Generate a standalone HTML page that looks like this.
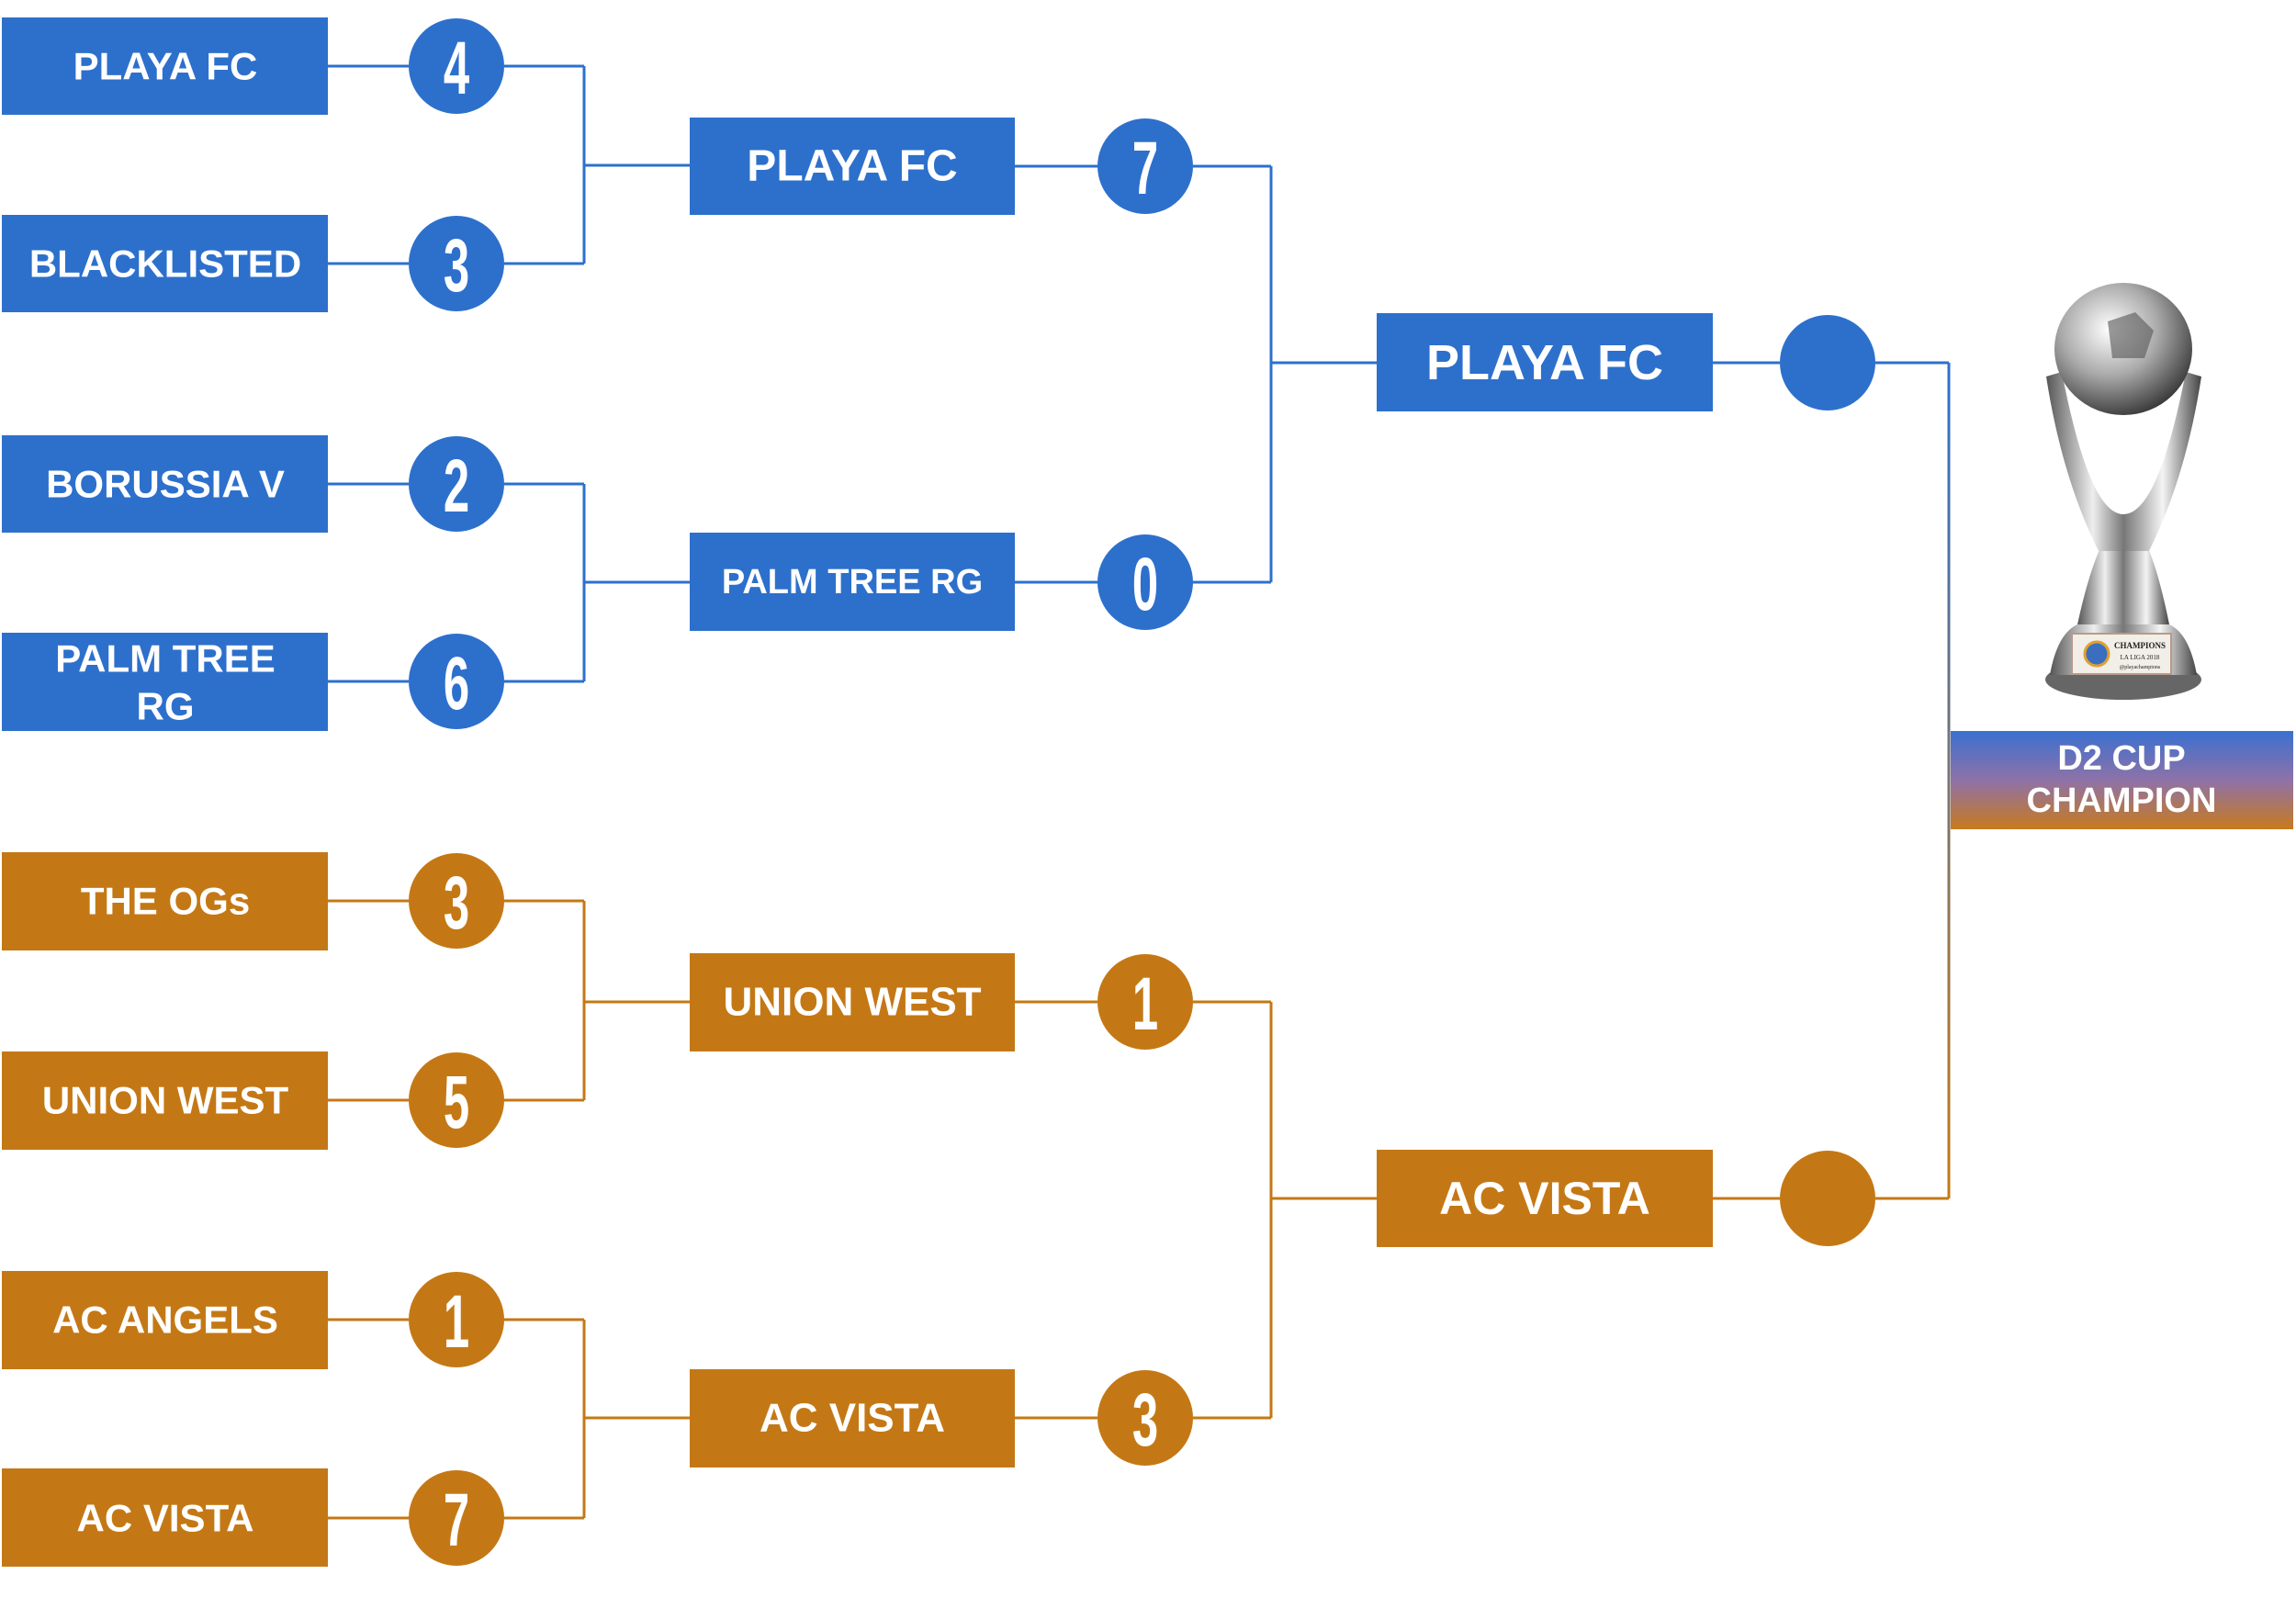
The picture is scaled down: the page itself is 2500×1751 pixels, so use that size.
<!DOCTYPE html>
<html><head><meta charset="utf-8"><style>
html,body{margin:0;padding:0;background:#fff;width:2500px;height:1751px;overflow:hidden}
svg{display:block}
.t{font-family:"Liberation Sans",sans-serif;font-weight:bold;fill:#fff;text-anchor:middle;dominant-baseline:central}
.n{font-family:"Liberation Sans Narrow","Liberation Sans",sans-serif;font-weight:bold;fill:#fff;text-anchor:middle;font-size:82px}
</style></head><body>
<svg width="2500" height="1751" viewBox="0 0 2500 1751" xmlns="http://www.w3.org/2000/svg">
<defs>
<linearGradient id="g" x1="0" y1="0" x2="0" y2="1"><stop offset="0" stop-color="#3a70d0"/><stop offset="0.5" stop-color="#8e72a8"/><stop offset="1" stop-color="#c87a1c"/></linearGradient>
<linearGradient id="vl" x1="0" y1="395" x2="0" y2="1305" gradientUnits="userSpaceOnUse"><stop offset="0" stop-color="#2d70cc"/><stop offset="1" stop-color="#c47815"/></linearGradient>
<linearGradient id="sil" x1="0" y1="0" x2="1" y2="0"><stop offset="0" stop-color="#555"/><stop offset="0.3" stop-color="#eee"/><stop offset="0.5" stop-color="#777"/><stop offset="0.75" stop-color="#f4f4f4"/><stop offset="1" stop-color="#444"/></linearGradient>
<radialGradient id="ball" cx="0.4" cy="0.35" r="0.7"><stop offset="0" stop-color="#fff"/><stop offset="0.5" stop-color="#aaa"/><stop offset="1" stop-color="#333"/></radialGradient>
</defs>
<g fill="none" stroke-width="3">
<!-- blue lines -->
<g stroke="#2d70cc">
<path d="M357 72H445M549 72H636M357 287H445M549 287H636M636 72V287M636 180H751"/>
<path d="M357 527H445M549 527H636M357 742H445M549 742H636M636 527V742M636 634H751"/>
<path d="M1105 181H1195M1299 181H1384M1105 634H1195M1299 634H1384M1384 181V634M1384 395H1499"/>
<path d="M1865 395H1938M2042 395H2122"/>
</g>
<g stroke="#c47815">
<path d="M357 981H445M549 981H636M357 1198H445M549 1198H636M636 981V1198M636 1091H751"/>
<path d="M357 1437H445M549 1437H636M357 1653H445M549 1653H636M636 1437V1653M636 1544H751"/>
<path d="M1105 1091H1195M1299 1091H1384M1105 1544H1195M1299 1544H1384M1384 1091V1544M1384 1305H1499"/>
<path d="M1865 1305H1938M2042 1305H2122"/>
</g>
<path d="M2122 395V1305" stroke="url(#vl)"/>
</g>
<!-- left boxes -->
<g fill="#2d70cc">
<rect x="2" y="19" width="355" height="106"/><rect x="2" y="234" width="355" height="106"/>
<rect x="2" y="474" width="355" height="106"/><rect x="2" y="689" width="355" height="107"/>
<rect x="751" y="128" width="354" height="106"/><rect x="751" y="580" width="354" height="107"/>
<rect x="1499" y="341" width="366" height="107"/>
<circle cx="497" cy="72" r="52"/><circle cx="497" cy="287" r="52"/><circle cx="497" cy="527" r="52"/><circle cx="497" cy="742" r="52"/>
<circle cx="1247" cy="181" r="52"/><circle cx="1247" cy="634" r="52"/><circle cx="1990" cy="395" r="52"/>
</g>
<g fill="#c47815">
<rect x="2" y="928" width="355" height="107"/><rect x="2" y="1145" width="355" height="107"/>
<rect x="2" y="1384" width="355" height="107"/><rect x="2" y="1599" width="355" height="107"/>
<rect x="751" y="1038" width="354" height="107"/><rect x="751" y="1491" width="354" height="107"/>
<rect x="1499" y="1252" width="366" height="106"/>
<circle cx="497" cy="981" r="52"/><circle cx="497" cy="1198" r="52"/><circle cx="497" cy="1437" r="52"/><circle cx="497" cy="1653" r="52"/>
<circle cx="1247" cy="1091" r="52"/><circle cx="1247" cy="1544" r="52"/><circle cx="1990" cy="1305" r="52"/>
</g>
<rect x="2124" y="796" width="373" height="107" fill="url(#g)"/>
<!-- text -->
<g class="t" font-size="42">
<text x="180" y="72">PLAYA FC</text><text x="180" y="287">BLACKLISTED</text>
<text x="180" y="527">BORUSSIA V</text><text x="180" y="717">PALM TREE</text><text x="180" y="769">RG</text>
<text x="180" y="981">THE OGs</text><text x="180" y="1198">UNION WEST</text>
<text x="180" y="1437">AC ANGELS</text><text x="180" y="1653">AC VISTA</text>
<text x="928" y="181" font-size="48">PLAYA FC</text><text x="928" y="634" font-size="38">PALM TREE RG</text>
<text x="928" y="1091" font-size="44">UNION WEST</text><text x="928" y="1544" font-size="44">AC VISTA</text>
<text x="1682" y="395" font-size="54">PLAYA FC</text><text x="1682" y="1305" font-size="50">AC VISTA</text>
<text x="2310" y="826" font-size="38">D2 CUP</text><text x="2310" y="872" font-size="38">CHAMPION</text>
</g>
<g class="n">
<g transform="translate(497,72) scale(0.62,1)"><text y="30">4</text></g>
<g transform="translate(497,287) scale(0.62,1)"><text y="30">3</text></g>
<g transform="translate(497,527) scale(0.62,1)"><text y="30">2</text></g>
<g transform="translate(497,742) scale(0.62,1)"><text y="30">6</text></g>
<g transform="translate(1247,181) scale(0.62,1)"><text y="30">7</text></g>
<g transform="translate(1247,634) scale(0.62,1)"><text y="30">0</text></g>
<g transform="translate(497,981) scale(0.62,1)"><text y="30">3</text></g>
<g transform="translate(497,1198) scale(0.62,1)"><text y="30">5</text></g>
<g transform="translate(497,1437) scale(0.62,1)"><text y="30">1</text></g>
<g transform="translate(497,1653) scale(0.62,1)"><text y="30">7</text></g>
<g transform="translate(1247,1091) scale(0.62,1)"><text y="30">1</text></g>
<g transform="translate(1247,1544) scale(0.62,1)"><text y="30">3</text></g>
</g>
<!-- trophy -->
<g>
<ellipse cx="2312" cy="740" rx="85" ry="22" fill="#666"/>
<path d="M2232 735 Q2240 690 2262 680 L2362 680 Q2384 690 2392 735 Z" fill="url(#sil)"/>
<rect x="2256" y="690" width="108" height="44" fill="#f2eee8" stroke="#b98" stroke-width="2"/>
<text x="2330" y="706" font-family="Liberation Serif,serif" font-size="9" font-weight="bold" text-anchor="middle" fill="#222">CHAMPIONS</text>
<text x="2330" y="718" font-family="Liberation Serif,serif" font-size="7" text-anchor="middle" fill="#222">LA LIGA 2018</text>
<text x="2330" y="728" font-family="Liberation Serif,serif" font-size="6" text-anchor="middle" fill="#222">@playachampions</text>
<circle cx="2283" cy="712" r="13" fill="#3a6fc0" stroke="#e0a030" stroke-width="3"/>
<path d="M2262 680 Q2275 620 2290 590 L2336 590 Q2350 620 2362 680 Z" fill="url(#sil)"/>
<path d="M2228 410 L2245 405 Q2275 560 2312 560 Q2350 560 2380 405 L2397 410 Q2380 520 2340 600 L2285 600 Q2245 520 2228 410 Z" fill="url(#sil)"/>
<ellipse cx="2312" cy="380" rx="75" ry="72" fill="url(#ball)"/>
<path d="M2295 350 L2325 340 L2345 360 L2335 390 L2300 390 Z" fill="#555" opacity="0.6"/>
</g>
</svg>
</body></html>
